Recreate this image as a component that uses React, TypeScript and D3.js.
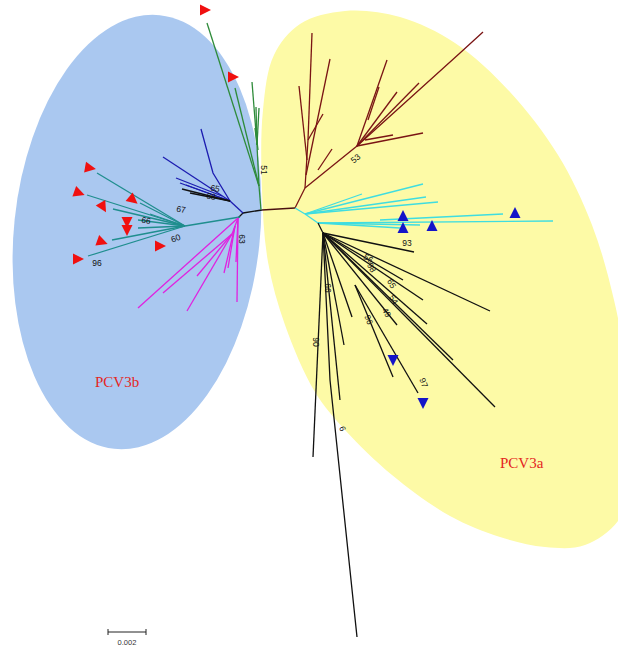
import * as d3 from "d3";

type Pt = [number, number];

// tree layout, in the figure's own layout units
const rootEdges: Pt[][] = [
  [[262, 210], [295, 208]],
];
const rootBlack: Pt[][] = [
  [[262, 210], [243, 213]],
  [[243, 213], [238, 218]],
];

const greenClade: Pt[][] = [
  [[261, 210], [259, 186]],
  [[259, 186], [207, 23]],
  [[259, 186], [235, 88]],
  [[259, 186], [257, 145]],
  [[257, 145], [252, 82]],
  [[257, 145], [256, 107]],
  [[257, 145], [259, 108]],
  [[257, 145], [255, 128]],
  [[258, 150], [256, 132]],
];

const navyClade: Pt[][] = [
  [[243, 213], [230, 201]],
  [[230, 201], [213, 173], [201, 129]],
  [[230, 201], [163, 157]],
  [[230, 201], [180, 183]],
  [[222, 196], [176, 178]],
  [[230, 201], [186, 185]],
];
const navyBlack: Pt[][] = [
  [[230, 201], [182, 189]],
  [[230, 201], [190, 193]],
];

const tealClade: Pt[][] = [
  [[240, 217], [185, 226]],
  [[185, 226], [97, 173]],
  [[185, 226], [87, 195]],
  [[185, 226], [113, 209]],
  [[185, 226], [140, 203]],
  [[185, 226], [138, 220]],
  [[185, 226], [138, 228]],
  [[185, 226], [112, 240]],
  [[185, 226], [88, 256]],
  [[185, 226], [150, 214]],
];

const magentaClade: Pt[][] = [
  [[238, 218], [232, 234]],
  [[238, 218], [138, 308]],
  [[232, 234], [163, 293]],
  [[232, 234], [187, 311]],
  [[232, 234], [197, 276]],
  [[238, 218], [237, 302]],
  [[235, 226], [224, 273]],
  [[235, 226], [228, 268]],
  [[238, 218], [236, 262]],
];

const brownClade: Pt[][] = [
  [[295, 208], [305, 188]],
  [[305, 188], [357, 146]],
  [[305, 188], [308, 140]],
  [[308, 140], [312, 33]],
  [[307, 160], [299, 86]],
  [[306, 175], [330, 59]],
  [[308, 140], [323, 114]],
  [[318, 170], [332, 149]],
  [[357, 146], [387, 60]],
  [[368, 120], [379, 87]],
  [[357, 146], [397, 92]],
  [[357, 146], [419, 83]],
  [[357, 146], [460, 53], [483, 32]],
  [[357, 146], [423, 133]],
  [[365, 140], [393, 135]],
];

const cyanClade: Pt[][] = [
  [[295, 208], [305, 214]],
  [[305, 214], [362, 194]],
  [[305, 214], [423, 184]],
  [[305, 214], [426, 197]],
  [[305, 214], [438, 202]],
  [[305, 214], [318, 223]],
  [[318, 223], [553, 221]],
  [[318, 223], [420, 225]],
  [[318, 223], [400, 228]],
  [[380, 220], [503, 214]],
];

const blackClade: Pt[][] = [
  [[318, 223], [323, 233]],
  [[323, 233], [414, 252]],
  [[323, 233], [490, 311]],
  [[323, 233], [423, 300]],
  [[323, 233], [427, 324]],
  [[323, 233], [453, 360]],
  [[323, 233], [495, 407]],
  [[323, 233], [403, 280]],
  [[323, 233], [397, 325]],
  [[355, 285], [393, 377]],
  [[355, 285], [418, 393]],
  [[323, 233], [352, 317]],
  [[323, 233], [344, 345]],
  [[323, 233], [340, 400]],
  [[323, 233], [313, 457]],
  [[323, 233], [330, 380], [357, 637]],
];

const clades = [
  { color: "#4a1010", paths: rootEdges },
  { color: "#111111", paths: rootBlack },
  { color: "#2e8b3a", paths: greenClade },
  { color: "#1c1cb0", paths: navyClade },
  { color: "#111111", paths: navyBlack },
  { color: "#1f8e8e", paths: tealClade },
  { color: "#e022e0", paths: magentaClade },
  { color: "#7a1414", paths: brownClade },
  { color: "#3fdde0", paths: cyanClade },
  { color: "#111111", paths: blackClade },
];

// outline of the PCV3a group shading
const pcv3aOutline: Pt[] = [
  [345, 11], [400, 17], [455, 43], [510, 92], [558, 155], [592, 225],
  [614, 300], [628, 380], [632, 460], [620, 518], [585, 545], [545, 547],
  [500, 537], [450, 516], [392, 475], [345, 430], [315, 392], [285, 325],
  [268, 262], [262, 190], [263, 110], [274, 55], [300, 24],
];

// tip markers
const redTips: Pt[] = [
  [205, 10], [233, 77], [90, 168], [79, 193], [103, 207], [133, 200],
  [127, 222], [127, 230], [102, 242], [78, 259], [160, 246],
];
const redTurns = [0, 0, 10, 20, 60, 40, 90, 90, 20, 0, 0];
const blueUpTips: Pt[] = [[403, 216], [403, 228], [432, 226], [515, 213]];
const blueDownTips: Pt[] = [[393, 360], [423, 403]];

// bootstrap values
const bootLabels = ["51", "65", "68", "67", "66", "60", "96", "63", "53", "93", "56", "98", "65", "54", "49", "66", "96", "90", "97", "6"];
const bootPos: Pt[] = [
  [263, 170], [215, 189], [211, 197], [181, 210], [146, 221], [176, 239],
  [97, 264], [241, 239], [356, 159], [407, 244], [368, 259], [371, 268],
  [391, 284], [393, 300], [386, 313], [327, 288], [368, 320], [315, 342],
  [423, 383], [342, 429],
];
const bootRot = [90, 10, 10, 10, 10, -20, 0, 90, -40, 0, 30, 60, 60, 60, 60, 90, 70, 90, 70, 70];

const scaleBarValue = 0.002;

export default function App() {
  const W = 618;
  const H = 652;
  const x = d3.scaleLinear().domain([0, 618]).range([0, W]);
  const y = d3.scaleLinear().domain([0, 652]).range([0, H]);
  const dist = d3.scaleLinear().domain([0, 0.002]).range([0, 38]);
  const line = d3
    .line<Pt>()
    .x((d) => x(d[0]))
    .y((d) => y(d[1]));
  const blob = d3
    .line<Pt>()
    .x((d) => x(d[0]))
    .y((d) => y(d[1]))
    .curve(d3.curveCatmullRomClosed.alpha(0.5));

  const tri = (px: number, py: number, rot: number, color: string, key: string) => (
    <path
      key={key}
      d="M-5,-5.5 L6,0 L-5,5.5 Z"
      transform={`translate(${x(px)},${y(py)}) rotate(${rot})`}
      fill={color}
    />
  );

  const barX = x(108);
  const barY = y(632);

  return (
    <div style={{ position: "fixed", left: 0, top: 0 }}>
      <svg width={W} height={H} style={{ display: "block", background: "#fff" }}>
        <path d={blob(pcv3aOutline) ?? ""} fill="#fdfaa6" />
        <ellipse
          cx={x(137)}
          cy={y(232)}
          rx={123}
          ry={218}
          transform={`rotate(6 ${x(137)} ${y(232)})`}
          fill="#aac8f0"
        />
        {clades.map((c, i) => (
          <g key={i} stroke={c.color} strokeWidth={1.3} fill="none">
            {c.paths.map((p, j) => (
              <path key={j} d={line(p) ?? ""} />
            ))}
          </g>
        ))}
        {redTips.map((p, i) => tri(p[0], p[1], redTurns[i], "#f01010", `r${i}`))}
        {blueUpTips.map((p, i) => tri(p[0], p[1], -90, "#1414c8", `bu${i}`))}
        {blueDownTips.map((p, i) => tri(p[0], p[1], 90, "#1414c8", `bd${i}`))}
        <g fontFamily="Liberation Sans, Arial, sans-serif" fontSize={8.5} fill="#111">
          {bootLabels.map((t, i) => (
            <text
              key={i}
              x={0}
              y={0}
              textAnchor="middle"
              dominantBaseline="middle"
              transform={`translate(${x(bootPos[i][0])},${y(bootPos[i][1])}) rotate(${bootRot[i]})`}
            >
              {t}
            </text>
          ))}
        </g>
        <g fontFamily="Liberation Serif, Times New Roman, serif" fontSize={15} fill="#e4261f">
          <text x={x(95)} y={y(387)}>PCV3b</text>
          <text x={x(500)} y={y(468)}>PCV3a</text>
        </g>
        <g stroke="#222" strokeWidth={1}>
          <line x1={barX} x2={barX + dist(scaleBarValue)} y1={barY} y2={barY} />
          <line x1={barX} x2={barX} y1={barY - 3} y2={barY + 3} />
          <line
            x1={barX + dist(scaleBarValue)}
            x2={barX + dist(scaleBarValue)}
            y1={barY - 3}
            y2={barY + 3}
          />
        </g>
        <text
          x={barX + dist(scaleBarValue) / 2}
          y={barY + 13}
          textAnchor="middle"
          fontFamily="Liberation Sans, Arial, sans-serif"
          fontSize={7.5}
          fill="#333"
        >
          {scaleBarValue}
        </text>
      </svg>
    </div>
  );
}
